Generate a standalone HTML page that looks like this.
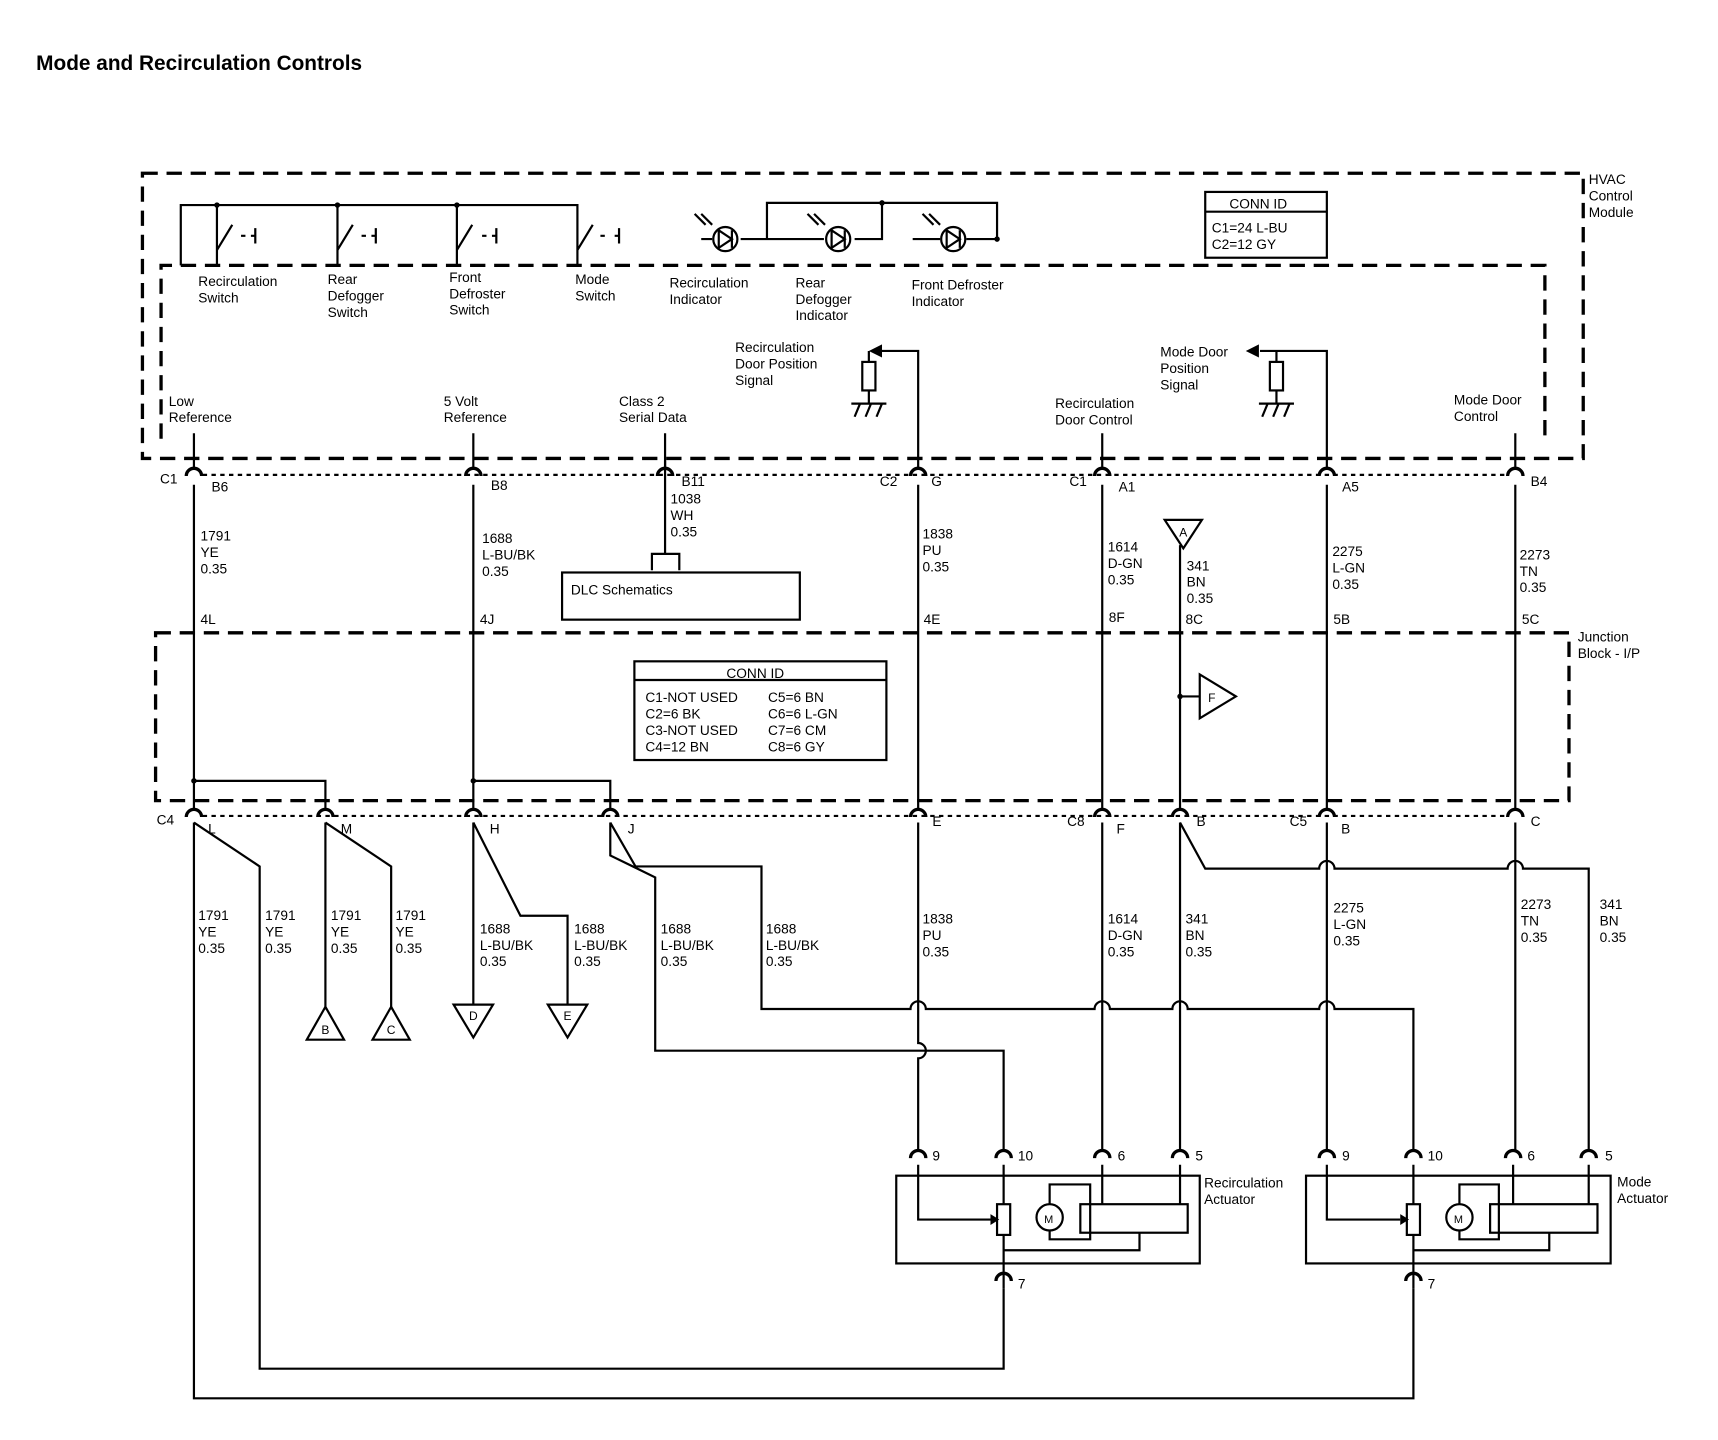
<!DOCTYPE html>
<html><head><meta charset="utf-8"><style>
html,body{margin:0;padding:0;background:#fff}
svg{display:block}
text{font-family:"Liberation Sans",Arial,sans-serif;font-size:12.5px;fill:#000}
.b{font-weight:bold}
</style></head><body>
<svg width="1718" height="1440" viewBox="0 0 1568 1313" preserveAspectRatio="none" xmlns="http://www.w3.org/2000/svg">
<defs>
<g id="cu"><path d="M-7,0 A7,7 0 0 1 7,0" fill="none" stroke="#000" stroke-width="3"/></g>
</defs>
<text x="33" y="64" class="b" style="font-size:19px">Mode and Recirculation Controls</text>
<g fill="none" stroke="#000" stroke-width="3" stroke-dasharray="14,8">
<rect x="130" y="158" width="1315" height="260"/>
<path d="M147,400 V242 H1410 V400"/>
<rect x="142" y="577" width="1290" height="153"/>
</g>
<g stroke="#000" stroke-width="2" stroke-dasharray="4,4"><line x1="185" y1="433" x2="1375" y2="433"/><line x1="185" y1="744" x2="1375" y2="744"/></g>
<text x="1450" y="168">HVAC</text><text x="1450" y="183">Control</text><text x="1450" y="198">Module</text>
<text x="1440" y="585">Junction</text><text x="1440" y="600">Block - I/P</text>
<g stroke="#000" stroke-width="2" fill="none">
<path d="M165,242 V187 H527 V242"/>
<path d="M198,187 V242 M308,187 V242 M417,187 V242"/>
<path d="M198,228 L212,205 M308,228 L322,205 M417,228 L431,205 M527,228 L541,205"/>
<path d="M220,215 h4 M233,208 v14 m-4,-7 h4 M330,215 h4 M343,208 v14 m-4,-7 h4 M440,215 h4 M453,208 v14 m-4,-7 h4 M548,215 h4 M565,208 v14 m-4,-7 h4"/>
<path d="M640,218 H650 M676,218 H700 V185 H910 V218 H882 M805,185 V218 H780 M752,218 H700 M858,218 H833"/>
<circle cx="662" cy="218" r="11"/><circle cx="765" cy="218" r="11"/><circle cx="870" cy="218" r="11"/>
<path d="M656,210 v16 l12,-8 z M668,210 v16 M759,210 v16 l12,-8 z M771,210 v16 M864,210 v16 l12,-8 z M876,210 v16"/>
<path d="M650,205 l-10,-10 M644,205 l-10,-10 M753,205 l-10,-10 M747,205 l-10,-10 M858,205 l-10,-10 M852,205 l-10,-10"/>
<rect x="1100" y="175" width="111" height="60" stroke-width="2"/><line x1="1100" y1="193" x2="1211" y2="193"/>
<rect x="513" y="522" width="217" height="43"/>
<path d="M607,420 V505 M595,520 V505 H620 V520"/>
<rect x="579" y="603" width="230" height="90"/><line x1="579" y1="620" x2="809" y2="620"/>
</g>
<circle cx="198" cy="187" r="2.5"/><circle cx="308" cy="187" r="2.5"/><circle cx="417" cy="187" r="2.5"/><circle cx="805" cy="185" r="2.5"/><circle cx="910" cy="218" r="2.5"/>
<text x="181" y="261">Recirculation</text><text x="181" y="276">Switch</text>
<text x="299" y="259">Rear</text><text x="299" y="274">Defogger</text><text x="299" y="289">Switch</text>
<text x="410" y="257">Front</text><text x="410" y="272">Defroster</text><text x="410" y="287">Switch</text>
<text x="525" y="259">Mode</text><text x="525" y="274">Switch</text>
<text x="611" y="262">Recirculation</text><text x="611" y="277">Indicator</text>
<text x="726" y="262">Rear</text><text x="726" y="277">Defogger</text><text x="726" y="292">Indicator</text>
<text x="832" y="264">Front Defroster</text><text x="832" y="279">Indicator</text>
<text x="1122" y="190">CONN ID</text><text x="1106" y="212">C1=24 L-BU</text><text x="1106" y="227">C2=12 GY</text>
<text x="671" y="321">Recirculation</text><text x="671" y="336">Door Position</text><text x="671" y="351">Signal</text>
<text x="1059" y="325">Mode Door</text><text x="1059" y="340">Position</text><text x="1059" y="355">Signal</text>
<text x="154" y="370">Low</text><text x="154" y="385">Reference</text>
<text x="405" y="370">5 Volt</text><text x="405" y="385">Reference</text>
<text x="565" y="370">Class 2</text><text x="565" y="385">Serial Data</text>
<text x="963" y="372">Recirculation</text><text x="963" y="387">Door Control</text>
<text x="1327" y="369">Mode Door</text><text x="1327" y="384">Control</text>
<g stroke="#000" stroke-width="2" fill="none">
<path d="M838,428 V320 H803 M1211,428 V320 H1150"/>
<path d="M793,320 V330 M793,356 V368 M777,368 H809 M780,380 l5,-12 M790,380 l5,-12 M800,380 l5,-12"/>
<rect x="787" y="330" width="12" height="26"/>
<path d="M1165,320 V330 M1165,356 V368 M1149,368 H1181 M1152,380 l5,-12 M1162,380 l5,-12 M1172,380 l5,-12"/>
<rect x="1159" y="330" width="12" height="26"/>
</g>
<path d="M793,320 l12,-6 v12 z M1137,320 l12,-6 v12 z"/>
<g stroke="#000" stroke-width="2" fill="none">
<path d="M177,395 V428 M432,395 V428 M607,395 V428 M1006,395 V428 M1383,395 V428"/>
<path d="M177,442 V739 M432,442 V739 M838,442 V739 M1006,442 V739 M1211,442 V739 M1383,442 V739 M1077,497 V739"/>
<path d="M177,712 H297 V739 M432,712 H557 V739 M1077,635 H1095"/>
<path d="M1063,474 H1097 L1080,500 Z"/><path d="M1095,615 V655 L1128,635 Z"/>
</g>
<circle cx="177" cy="712" r="2.5"/><circle cx="432" cy="712" r="2.5"/><circle cx="1077" cy="635" r="2.5"/>
<text x="1080" y="489" text-anchor="middle" style="font-size:11px">A</text><text x="1106" y="640" text-anchor="middle" style="font-size:11px">F</text>
<g transform="translate(0,434)"><use href="#cu" x="177"/><use href="#cu" x="432"/><use href="#cu" x="607"/><use href="#cu" x="838"/><use href="#cu" x="1006"/><use href="#cu" x="1211"/><use href="#cu" x="1383"/></g>
<g transform="translate(0,745)"><use href="#cu" x="177"/><use href="#cu" x="297"/><use href="#cu" x="432"/><use href="#cu" x="557"/><use href="#cu" x="838"/><use href="#cu" x="1006"/><use href="#cu" x="1077"/><use href="#cu" x="1211"/><use href="#cu" x="1383"/></g>
<text x="146" y="441">C1</text><text x="193" y="448">B6</text><text x="448" y="447">B8</text><text x="622" y="443">B11</text>
<text x="803" y="443">C2</text><text x="850" y="443">G</text><text x="976" y="443">C1</text><text x="1021" y="448">A1</text>
<text x="1225" y="448">A5</text><text x="1397" y="443">B4</text>
<text x="183" y="493">1791</text><text x="183" y="508">YE</text><text x="183" y="523">0.35</text>
<text x="440" y="495">1688</text><text x="440" y="510">L-BU/BK</text><text x="440" y="525">0.35</text>
<text x="612" y="459">1038</text><text x="612" y="474">WH</text><text x="612" y="489">0.35</text>
<text x="521" y="542">DLC Schematics</text>
<text x="842" y="491">1838</text><text x="842" y="506">PU</text><text x="842" y="521">0.35</text>
<text x="1011" y="503">1614</text><text x="1011" y="518">D-GN</text><text x="1011" y="533">0.35</text>
<text x="1083" y="520">341</text><text x="1083" y="535">BN</text><text x="1083" y="550">0.35</text>
<text x="1216" y="507">2275</text><text x="1216" y="522">L-GN</text><text x="1216" y="537">0.35</text>
<text x="1387" y="510">2273</text><text x="1387" y="525">TN</text><text x="1387" y="540">0.35</text>
<text x="183" y="569">4L</text><text x="438" y="569">4J</text><text x="843" y="569">4E</text><text x="1012" y="567">8F</text><text x="1082" y="569">8C</text><text x="1217" y="569">5B</text><text x="1389" y="569">5C</text>
<text x="663" y="618">CONN ID</text>
<text x="589" y="640">C1-NOT USED</text><text x="701" y="640">C5=6 BN</text>
<text x="589" y="655">C2=6 BK</text><text x="701" y="655">C6=6 L-GN</text>
<text x="589" y="670">C3-NOT USED</text><text x="701" y="670">C7=6 CM</text>
<text x="589" y="685">C4=12 BN</text><text x="701" y="685">C8=6 GY</text>
<text x="143" y="752">C4</text><text x="190" y="760">L</text><text x="311" y="760">M</text><text x="447" y="760">H</text><text x="573" y="760">J</text>
<text x="851" y="753">E</text><text x="974" y="753">C8</text><text x="1019" y="760">F</text><text x="1092" y="753">B</text><text x="1177" y="753">C5</text><text x="1224" y="760">B</text><text x="1397" y="753">C</text>
<g stroke="#000" stroke-width="2" fill="none">
<path d="M177,750 V1275 H1290 V1175 M177,750 L237,790 V1248 H916 V1175"/>
<path d="M297,750 V918 M297,750 L357,790 V918"/>
<path d="M432,750 V916 M432,750 L475,835 H518 V916"/>
<path d="M557,750 V780 L598,800 V958 H916 V1050 M557,750 L580,790 H695 V920 H831 a7,7 0 0 1 14,0 H999 a7,7 0 0 1 14,0 H1070 a7,7 0 0 1 14,0 H1204 a7,7 0 0 1 14,0 H1290 V1050"/>
<path d="M838,750 V951 a7,7 0 0 1 0,14 V1050 M1006,750 V1050 M1077,750 V1050 M1211,750 V1050 M1383,750 V1050"/>
<path d="M1077,750 L1100,792 H1204 a7,7 0 0 1 14,0 H1376 a7,7 0 0 1 14,0 H1450 V1050"/>
<path d="M297,918 L314,948 H280 Z M357,918 L374,948 H340 Z M414,916 H450 L432,946 Z M500,916 H536 L518,946 Z"/>
</g>
<text x="297" y="943" text-anchor="middle" style="font-size:11px">B</text><text x="357" y="943" text-anchor="middle" style="font-size:11px">C</text><text x="432" y="930" text-anchor="middle" style="font-size:11px">D</text><text x="518" y="930" text-anchor="middle" style="font-size:11px">E</text>
<text x="181" y="839">1791</text><text x="181" y="854">YE</text><text x="181" y="869">0.35</text>
<text x="242" y="839">1791</text><text x="242" y="854">YE</text><text x="242" y="869">0.35</text>
<text x="302" y="839">1791</text><text x="302" y="854">YE</text><text x="302" y="869">0.35</text>
<text x="361" y="839">1791</text><text x="361" y="854">YE</text><text x="361" y="869">0.35</text>
<text x="438" y="851">1688</text><text x="438" y="866">L-BU/BK</text><text x="438" y="881">0.35</text>
<text x="524" y="851">1688</text><text x="524" y="866">L-BU/BK</text><text x="524" y="881">0.35</text>
<text x="603" y="851">1688</text><text x="603" y="866">L-BU/BK</text><text x="603" y="881">0.35</text>
<text x="699" y="851">1688</text><text x="699" y="866">L-BU/BK</text><text x="699" y="881">0.35</text>
<text x="842" y="842">1838</text><text x="842" y="857">PU</text><text x="842" y="872">0.35</text>
<text x="1011" y="842">1614</text><text x="1011" y="857">D-GN</text><text x="1011" y="872">0.35</text>
<text x="1082" y="842">341</text><text x="1082" y="857">BN</text><text x="1082" y="872">0.35</text>
<text x="1217" y="832">2275</text><text x="1217" y="847">L-GN</text><text x="1217" y="862">0.35</text>
<text x="1388" y="829">2273</text><text x="1388" y="844">TN</text><text x="1388" y="859">0.35</text>
<text x="1460" y="829">341</text><text x="1460" y="844">BN</text><text x="1460" y="859">0.35</text>
<g transform="translate(0,1056)"><use href="#cu" x="838"/><use href="#cu" x="916"/><use href="#cu" x="1006"/><use href="#cu" x="1077"/><use href="#cu" x="1211"/><use href="#cu" x="1290"/><use href="#cu" x="1381"/><use href="#cu" x="1450"/></g>
<g transform="translate(0,1168)"><use href="#cu" x="916"/><use href="#cu" x="1290"/></g>
<text x="851" y="1058">9</text><text x="929" y="1058">10</text><text x="1020" y="1058">6</text><text x="1091" y="1058">5</text>
<text x="1225" y="1058">9</text><text x="1303" y="1058">10</text><text x="1394" y="1058">6</text><text x="1465" y="1058">5</text>
<text x="929" y="1175">7</text><text x="1303" y="1175">7</text>
<g stroke="#000" stroke-width="2" fill="none">
<rect x="818" y="1072" width="277" height="80"/><rect x="1192" y="1072" width="278" height="80"/>
<path d="M838,1062 V1112 H904 M916,1062 V1098 M916,1126 V1175 M1006,1062 V1098 M1077,1062 V1098 M958,1098 V1080 H995 V1130 H958 V1122 M1040,1124 V1140 H916"/>
<rect x="910" y="1098" width="12" height="28"/><rect x="986" y="1098" width="98" height="26"/><circle cx="958" cy="1110" r="12"/>
<path d="M1211,1062 V1112 H1278 M1290,1062 V1098 M1290,1126 V1175 M1381,1062 V1098 M1450,1062 V1098 M1332,1098 V1080 H1368 V1130 H1332 V1122 M1414,1124 V1140 H1290"/>
<rect x="1284" y="1098" width="12" height="28"/><rect x="1360" y="1098" width="98" height="26"/><circle cx="1332" cy="1110" r="12"/>
</g>
<path d="M904,1107 l8,5 -8,5 z M1278,1107 l8,5 -8,5 z"/>
<text x="953" y="1115" style="font-size:10px">M</text><text x="1327" y="1115" style="font-size:10px">M</text>
<text x="1099" y="1083">Recirculation</text><text x="1099" y="1098">Actuator</text>
<text x="1476" y="1082">Mode</text><text x="1476" y="1097">Actuator</text>
</svg>
</body></html>
